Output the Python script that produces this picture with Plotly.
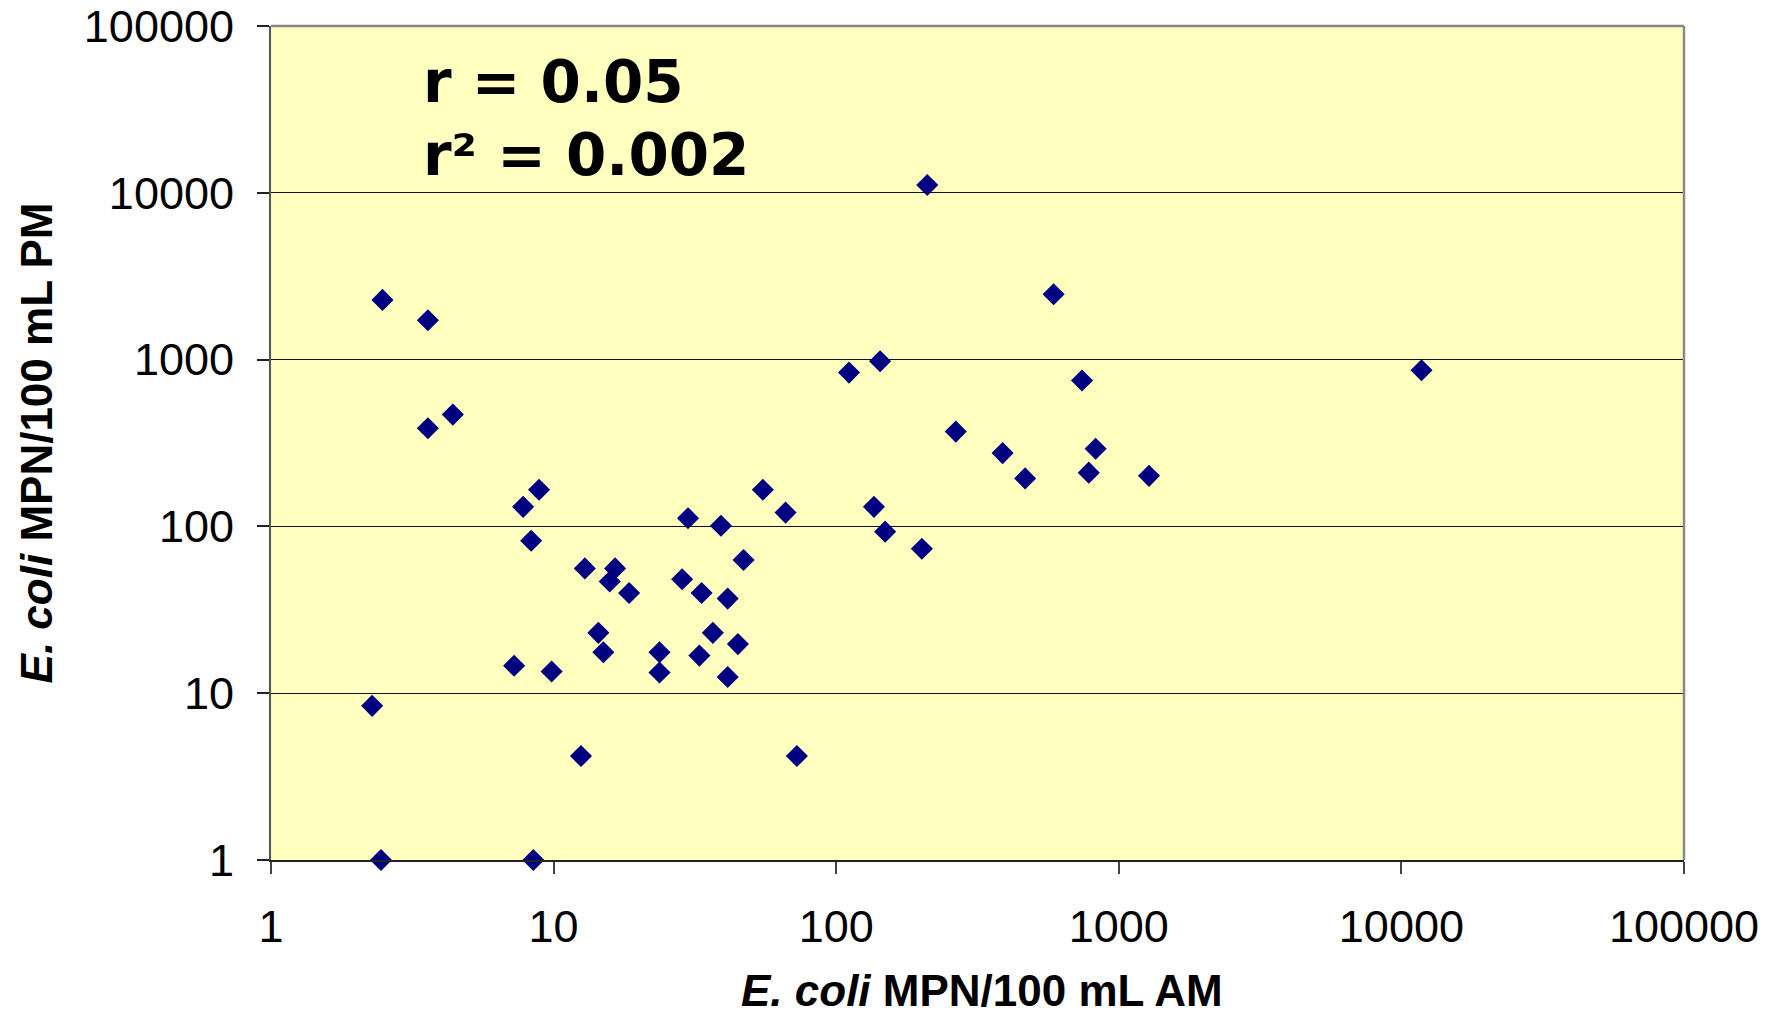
import plotly.graph_objects as go

am = [2.48, 3.59, 3.59, 4.40, 7.80, 8.88, 8.33, 7.25, 9.84, 2.28, 2.45, 8.48,
      12.5, 12.9, 14.4, 15.0, 15.8, 16.5, 18.5, 23.7, 23.7, 28.5, 29.9, 33.4,
      32.8, 36.6, 39.1, 41.3, 41.3, 44.9, 47.0, 55.0, 66.2, 72.6, 111, 143,
      136, 149, 201, 210, 265, 388, 466, 588, 741, 783, 828, 1279, 11780]
pm = [2280, 1722, 388, 468, 131, 166, 82, 14.6, 13.5, 8.4, 1, 1,
      4.2, 56, 23, 17.6, 46.7, 56, 39.9, 17.6, 13.3, 48.2, 112, 39.9,
      16.8, 23, 101, 36.9, 12.5, 19.7, 62.9, 166, 121, 4.2, 836, 977,
      131, 93, 73.5, 11130, 370, 275, 194, 2467, 750, 210, 292, 201, 863]

tick_vals = [1, 10, 100, 1000, 10000, 100000]
tick_text = ["1", "10", "100", "1000", "10000", "100000"]

stats_lines = ["r = 0.05", "r² = 0.002"]
x_title = "<i>E. coli</i> MPN/100 mL AM"
y_title = "<i>E. coli</i> MPN/100 mL PM"

fig = go.Figure()
fig.add_trace(go.Scatter(
    x=am, y=pm, mode="markers",
    marker=dict(symbol="diamond", size=17, color="#000080",
                line=dict(width=0)),
    showlegend=False, cliponaxis=False,
))

tick_font = dict(family="Liberation Sans, Arial, sans-serif", size=45, color="#000")
title_font = dict(family="Liberation Sans, Arial, sans-serif", size=44, color="#000", weight="bold")
stats_font = dict(family="DejaVu Sans, Verdana, sans-serif", size=58, color="#000", weight="bold")

fig.update_layout(
    width=1782, height=1018,
    margin=dict(l=271, r=98, t=26, b=158),
    paper_bgcolor="white",
    plot_bgcolor="#FFFFC0",
    xaxis=dict(
        type="log", range=[0, 5], automargin=False,
        tickvals=tick_vals, ticktext=tick_text,
        showgrid=False, zeroline=False,
        ticks="outside", ticklen=12, tickcolor="#444", tickwidth=1.5,
        showline=True, linecolor="#222", linewidth=2,
        tickfont=tick_font, ticklabelstandoff=14,
    ),
    yaxis=dict(
        type="log", range=[0, 5], automargin=False,
        tickvals=tick_vals, ticktext=tick_text,
        showgrid=True, gridcolor="#111", gridwidth=1, zeroline=False,
        ticks="outside", ticklen=12, tickcolor="#222", tickwidth=1.5,
        showline=True, linecolor="#555", linewidth=2,
        tickfont=tick_font, ticklabelstandoff=14,
    ),
    shapes=[
        dict(type="line", xref="paper", yref="paper", x0=0, x1=1, y0=1, y1=1,
             line=dict(color="#888", width=2.5), layer="above"),
        dict(type="line", xref="paper", yref="paper", x0=1, x1=1, y0=0, y1=1,
             line=dict(color="#888", width=2.5), layer="above"),
    ],
    annotations=[
        dict(text=stats_lines[0], xref="paper", yref="paper", x=0.106, y=0.933,
             xanchor="left", yanchor="middle", showarrow=False, font=stats_font),
        dict(text=stats_lines[1], xref="paper", yref="paper", x=0.106, y=0.845,
             xanchor="left", yanchor="middle", showarrow=False, font=stats_font),
        dict(text=x_title, xref="paper", yref="paper", x=0.503, y=-0.1885,
             xanchor="center", yanchor="bottom", showarrow=False, font=title_font),
        dict(text=y_title, xref="paper", yref="paper", x=-0.166, y=0.5,
             xanchor="center", yanchor="middle", showarrow=False, textangle=-90,
             font=title_font),
    ],
)

fig.write_html("out.html", config={"displayModeBar": False},
               post_script="document.body.style.margin='0';")
